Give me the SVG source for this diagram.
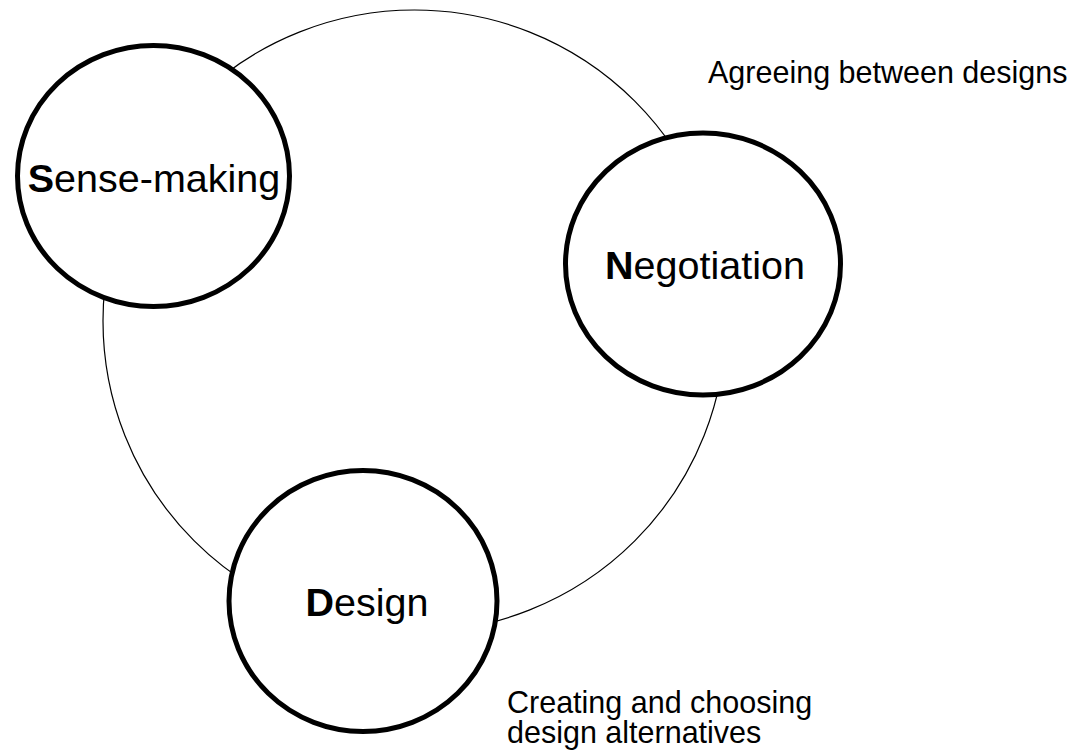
<svg xmlns="http://www.w3.org/2000/svg" width="1073" height="751" viewBox="0 0 1073 751">
<style>
.node{fill:#fff;stroke:#000;stroke-width:5}
.ring{fill:none;stroke:#000;stroke-width:1.2}
.t{font-family:"Liberation Sans",Arial,sans-serif;fill:#000}
.big{font-size:39.5px;text-anchor:middle}
.lbl{font-size:30.5px}
.b{font-weight:bold}
</style>
<rect width="1073" height="751" fill="#fff"/>
<g id="connectors">
<ellipse class="ring" cx="414.5" cy="321" rx="311.5" ry="311"/>
</g>
<g id="sense-making">
<ellipse class="node" cx="153.5" cy="176" rx="136" ry="130.5"/>
<text class="t big" x="154" y="192"><tspan class="b">S</tspan>ense-making</text>
</g>
<g id="negotiation">
<ellipse class="node" cx="703" cy="264" rx="137.5" ry="131"/>
<text class="t big" x="705" y="279"><tspan class="b">N</tspan>egotiation</text>
</g>
<g id="design">
<ellipse class="node" cx="363" cy="601" rx="134" ry="130.5"/>
<text class="t big" x="367" y="616"><tspan class="b">D</tspan>esign</text>
</g>
<g id="labels">
<text class="t lbl" x="708" y="83">Agreeing between designs</text>
<text class="t lbl" x="507" y="713">Creating and choosing</text>
<text class="t lbl" x="507" y="743">design alternatives</text>
</g>
</svg>
